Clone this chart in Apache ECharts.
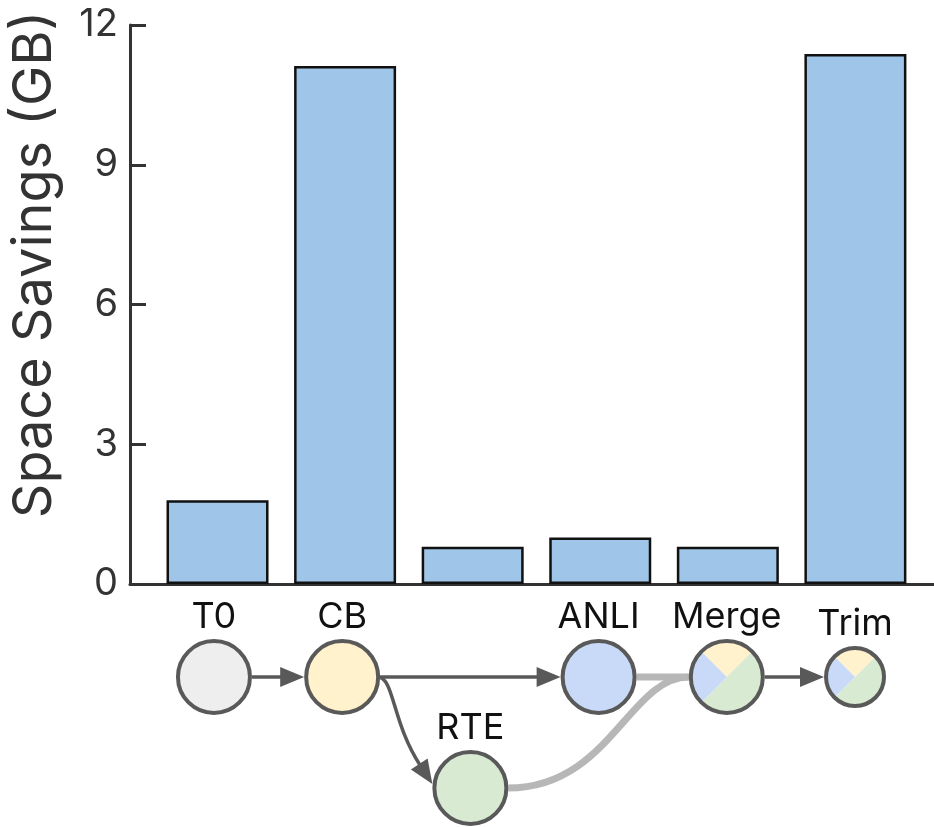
<!DOCTYPE html>
<html>
<head>
<meta charset="utf-8">
<script src="https://cdn.jsdelivr.net/npm/echarts@6/dist/echarts.min.js"></script>
<style>
  html, body { margin: 0; padding: 0; background: #fff; }
  #main { width: 934px; height: 827px; }
</style>
</head>
<body>
<div id="main"></div>
<script>
// Pipeline stages, in column order
const stages = ['T0', 'CB', 'RTE', 'ANLI', 'Merge', 'Trim'];
// Disk space saved at each stage (GB)
const savingsGB = [1.8, 11.12, 0.8, 1.0, 0.8, 11.38];
// Value-axis ticks
const yTicks = [0, 3, 6, 9, 12];
// Lane of each stage in the pipeline diagram (0 = main lane, 1 = branch)
const stageLane = [0, 0, 1, 0, 0, 0];
// Which source models make up each stage, as shares
const stageMix = [
  [['T0', 1]],
  [['CB', 1]],
  [['RTE', 1]],
  [['ANLI', 1]],
  [['CB', 0.25], ['RTE', 0.5], ['ANLI', 0.25]],
  [['CB', 0.25], ['RTE', 0.5], ['ANLI', 0.25]]
];
// Pipeline transitions: [from, to, kind]
const transitions = [
  ['ANLI', 'Merge', 'merge'],
  ['RTE', 'Merge', 'merge'],
  ['T0', 'CB', 'flow'],
  ['CB', 'ANLI', 'flow'],
  ['CB', 'RTE', 'flow'],
  ['Merge', 'Trim', 'flow']
];

// ---- styling ----
const FONT = 'Inter, "Noto Sans", sans-serif';
const AXIS = '#333333';
const DARK = '#595959';
const MERGE_GREY = '#b7b7b7';
const stageColor = { T0: '#eeeeee', CB: '#fff2cc', RTE: '#d9ead3', ANLI: '#c9daf8' };
const NODE_R = 36;
const SMALL_NODE_R = 29;
const smallNodes = ['Trim'];
const radiusOf = name => (smallNodes.indexOf(name) >= 0 ? SMALL_NODE_R : NODE_R);
const ARROW_LEN = 24;
const ARROW_HALF = 10;

const X_MIN = -0.686, X_MAX = 5.616;

const barData = savingsGB.map((v, i) => [i, v]);
const nodeData = stages.map((s, i) => [i, stageLane[i]]);
const edgeData = transitions.map(t => {
  const a = stages.indexOf(t[0]), b = stages.indexOf(t[1]);
  return [a, stageLane[a], b, stageLane[b]];
});

function arrowHead(tip, dir) {
  const bx = tip[0] - dir[0] * ARROW_LEN, by = tip[1] - dir[1] * ARROW_LEN;
  const nx = -dir[1], ny = dir[0];
  return {
    base: [bx, by],
    el: {
      type: 'polygon',
      shape: { points: [tip, [bx + nx * ARROW_HALF, by + ny * ARROW_HALF], [bx - nx * ARROW_HALF, by - ny * ARROW_HALF]] },
      style: { fill: DARK }
    }
  };
}

function renderEdge(params, api) {
  const t = transitions[params.dataIndex];
  const s = api.coord([api.value(0), api.value(1)]);
  const d = api.coord([api.value(2), api.value(3)]);
  const rs = radiusOf(t[0]) + 2, rd = radiusOf(t[1]) + 2;
  const p0 = [s[0] + rs, s[1]];
  const children = [];
  if (t[2] === 'merge') {
    const p3 = [d[0] - rd, d[1]];
    const w = p3[0] - p0[0];
    const style = { stroke: MERGE_GREY, lineWidth: 7, fill: null };
    if (Math.abs(p3[1] - p0[1]) < 1) {
      children.push({ type: 'line', shape: { x1: p0[0], y1: p0[1], x2: p3[0], y2: p3[1] }, style });
    } else {
      children.push({
        type: 'bezierCurve',
        shape: { x1: p0[0], y1: p0[1], cpx1: p0[0] + w * 0.56, cpy1: p0[1], cpx2: p3[0] - w * 0.33, cpy2: p3[1], x2: p3[0], y2: p3[1] },
        style
      });
    }
  } else {
    const style = { stroke: DARK, lineWidth: 3.5, fill: null };
    if (Math.abs(d[1] - s[1]) < 1) {
      const tip = [d[0] - rd, d[1]];
      const a = arrowHead(tip, [1, 0]);
      children.push({ type: 'line', shape: { x1: p0[0], y1: p0[1], x2: a.base[0] + 2, y2: a.base[1] }, style });
      children.push(a.el);
    } else {
      // branch: leave to the right, drop down, enter the lower node from its upper left
      const tip = [d[0] - rd, d[1] - 4];
      const len = Math.hypot(0.55, 0.84);
      const dir = [0.55 / len, 0.84 / len];
      const a = arrowHead(tip, dir);
      const b = a.base;
      children.push({
        type: 'bezierCurve',
        shape: { x1: p0[0] - 2, y1: p0[1], cpx1: p0[0] + 14, cpy1: p0[1] + 1, cpx2: b[0] - dir[0] * 50, cpy2: b[1] - dir[1] * 50, x2: b[0] + dir[0] * 2, y2: b[1] + dir[1] * 2 },
        style
      });
      children.push(a.el);
    }
  }
  return { type: 'group', children };
}

function renderNode(params, api) {
  const i = params.dataIndex;
  const name = stages[i];
  const c = api.coord([api.value(0), api.value(1)]);
  const r = radiusOf(name);
  const mix = stageMix[i];
  const children = [];
  if (mix.length === 1) {
    children.push({ type: 'circle', shape: { cx: c[0], cy: c[1], r }, style: { fill: stageColor[mix[0][0]], stroke: DARK, lineWidth: 4 } });
  } else {
    let a = -3 * Math.PI / 4;
    mix.forEach(([k, f]) => {
      const e = a + f * 2 * Math.PI;
      children.push({ type: 'sector', shape: { cx: c[0], cy: c[1], r0: 0, r, startAngle: a, endAngle: e, clockwise: true }, style: { fill: stageColor[k] } });
      a = e;
    });
    children.push({ type: 'circle', shape: { cx: c[0], cy: c[1], r }, style: { fill: null, stroke: DARK, lineWidth: 4 } });
  }
  children.push({
    type: 'text',
    style: { text: name, x: c[0], y: c[1] - r - 24, align: 'center', verticalAlign: 'middle', font: '36px ' + FONT, fill: '#111111' }
  });
  return { type: 'group', children };
}

const chart = echarts.init(document.getElementById('main'), null, { renderer: 'canvas' });
chart.setOption({
  animation: false,
  backgroundColor: '#ffffff',
  grid: [
    { left: 126, right: 0, top: 25, bottom: 243, containLabel: false },
    { left: 126, right: 0, top: 677, height: 111, containLabel: false }
  ],
  xAxis: [
    {
      type: 'value', gridIndex: 0, min: X_MIN, max: X_MAX,
      axisLine: { show: true, onZero: false, lineStyle: { color: AXIS, width: 3 } },
      axisTick: { show: false }, axisLabel: { show: false }, splitLine: { show: false }
    },
    {
      type: 'value', gridIndex: 1, min: X_MIN, max: X_MAX, show: false
    }
  ],
  yAxis: [
    {
      type: 'value', gridIndex: 0, min: yTicks[0], max: yTicks[yTicks.length - 1], interval: yTicks[1] - yTicks[0],
      axisLine: { show: true, onZero: false, lineStyle: { color: AXIS, width: 3 } },
      axisTick: { show: true, inside: true, length: 16, lineStyle: { color: AXIS, width: 3 } },
      axisLabel: { fontSize: 38, color: AXIS, margin: 12, fontFamily: FONT },
      splitLine: { show: false },
      name: 'Space Savings (GB)', nameLocation: 'middle', nameRotate: 90, nameGap: 68,
      nameTextStyle: { fontSize: 54, color: AXIS, fontFamily: FONT, padding: [0, 0, 0, 80] }
    },
    {
      type: 'value', gridIndex: 1, min: 0, max: 1, inverse: true, show: false
    }
  ],
  series: [
    {
      type: 'bar', xAxisIndex: 0, yAxisIndex: 0, data: barData, barWidth: 102,
      itemStyle: { color: '#9fc5e8', borderColor: '#111111', borderWidth: 2.5 },
      z: 2
    },
    {
      type: 'custom', xAxisIndex: 1, yAxisIndex: 1, data: edgeData, renderItem: renderEdge,
      clip: false, silent: true, z: 3
    },
    {
      type: 'custom', xAxisIndex: 1, yAxisIndex: 1, data: nodeData, renderItem: renderNode,
      clip: false, silent: true, z: 4
    }
  ]
});
</script>
</body>
</html>
